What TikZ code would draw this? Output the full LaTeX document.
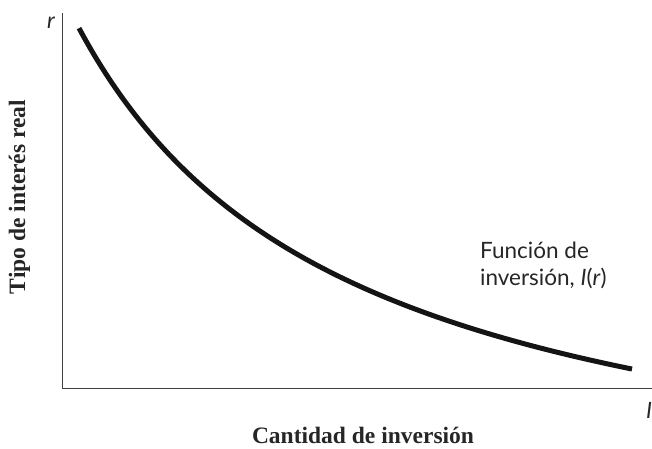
\documentclass[tikz,border=0pt]{standalone}
\usepackage{fontspec}
\setmainfont{Liberation Serif}
\setsansfont{Lato}
\begin{document}
\begin{tikzpicture}[x=1pt,y=-1pt,
  axis/.style={draw=black!75,line width=1pt},
  curve/.style={line width=5pt,color=black!92},
  lbl/.style={font=\sffamily\fontsize{22.5}{27}\selectfont,text=black!85,inner sep=0pt},
  var/.style={font=\sffamily\itshape\fontsize{22.5}{27}\selectfont,text=black!85,inner sep=0pt,anchor=base},
  title/.style={font=\rmfamily\bfseries\fontsize{23.5}{26}\selectfont,text=black!85,inner sep=0pt,anchor=base}]
\useasboundingbox (0,0) rectangle (652,448);
\coordinate (top) at (62,13);
\coordinate (orig) at (62,388);
\coordinate (right) at (652,388);
\draw[axis] (top) -- (orig) -- (right);
\draw[curve] plot[domain=79:632,samples=80,smooth] ({\x},{537.6-1393.28/(\x/100+1.945)});
\node[var] (r) at (51,28) {r};
\node[var] (i) at (649,418) {I};
\node[lbl,align=left,anchor=base west] (fn) at (480,285) {Función de\\inversión, \textit{I}(\textit{r})};
\node[title] (xt) at (363,443) {Cantidad de inversión};
\node[title,rotate=90] (yt) at (25,197) {Tipo de interés real};
\end{tikzpicture}
\end{document}
